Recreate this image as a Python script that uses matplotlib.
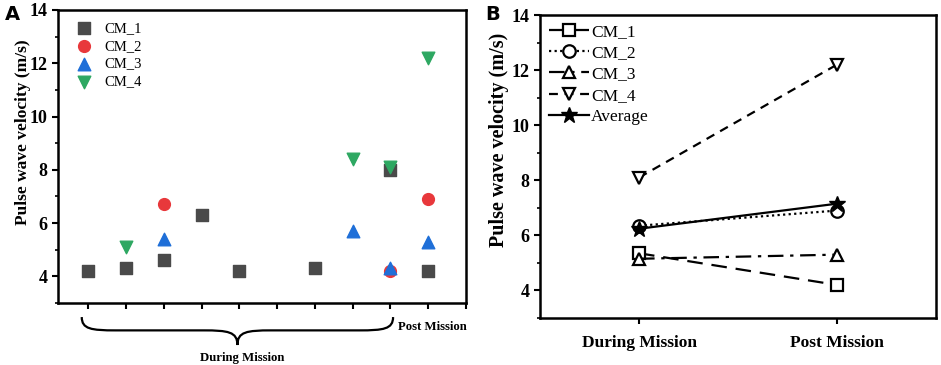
import matplotlib
matplotlib.use("Agg")
import matplotlib.pyplot as plt
from matplotlib.path import Path
from matplotlib.patches import PathPatch
from matplotlib.ticker import MultipleLocator

# ---- Panel A data ----
cm1_x = [1, 2, 3, 4, 5, 7, 9, 10]
cm1_y = [4.2, 4.3, 4.6, 6.3, 4.2, 4.3, 8.0, 4.2]
cm2_x = [3, 9, 10]
cm2_y = [6.7, 4.2, 6.9]
cm3_x = [3, 8, 9, 10]
cm3_y = [5.4, 5.7, 4.3, 5.3]
cm4_x = [2, 8, 9, 10]
cm4_y = [5.1, 8.4, 8.1, 12.2]

# ---- Panel B data ----
phases = ["During Mission", "Post Mission"]
b_cm1 = [5.35, 4.2]
b_cm2 = [6.35, 6.9]
b_cm3 = [5.15, 5.3]
b_cm4 = [8.1, 12.2]
b_avg = [6.24, 7.15]

serif = ["Liberation Serif", "DejaVu Serif"]
plt.rcParams["font.family"] = serif

fig = plt.figure(figsize=(9.41, 3.65), dpi=100)

# ---------- Panel A ----------
axA = fig.add_axes([0.0616, 0.170, 0.4336, 0.8027])
ms = 72
axA.scatter(cm1_x, cm1_y, marker="s", s=ms, color="#4a4a4a", label="CM_1", zorder=3)
axA.scatter(cm2_x, cm2_y, marker="o", s=ms, color="#e8383b", label="CM_2", zorder=3)
axA.scatter(cm3_x, cm3_y, marker="^", s=ms + 10, color="#1f6fd8", label="CM_3", zorder=4)
axA.scatter(cm4_x, cm4_y, marker="v", s=ms + 10, color="#2ea862", label="CM_4", zorder=4)
axA.set_xlim(0.2, 11)
axA.set_ylim(3, 14)
axA.set_xticks(range(1, 12))
axA.set_xticklabels([])
axA.set_yticks([4, 6, 8, 10, 12, 14])
axA.yaxis.set_minor_locator(MultipleLocator(1))
axA.tick_params(axis="both", which="major", direction="out", length=4, width=1.5)
axA.tick_params(axis="y", which="minor", direction="out", length=2.5, width=1.2)
for lab in axA.get_yticklabels():
    lab.set_fontweight("bold")
    lab.set_fontsize(13)
for sp in axA.spines.values():
    sp.set_linewidth(1.8)
axA.set_ylabel("Pulse wave velocity (m/s)", fontsize=12.5, fontweight="bold")
axA.yaxis.set_label_coords(-0.066, 0.584)
legA = axA.legend(loc="upper left", frameon=False, fontsize=10.5, handletextpad=0.4,
                  labelspacing=0.32, borderaxespad=0.4, scatterpoints=1)

# curly brace under During Mission
L, R = 0.83, 9.07
C = (L + R) / 2
ytop, ymid, ytip = 2.47, 1.97, 1.42
verts = [
    (L, ytop), (L, ymid + 0.05), (L + 0.25, ymid), (L + 0.9, ymid),
    (C - 0.9, ymid),
    (C - 0.25, ymid), (C, ymid - 0.05), (C, ytip),
    (C, ymid - 0.05), (C + 0.25, ymid), (C + 0.9, ymid),
    (R - 0.9, ymid),
    (R - 0.25, ymid), (R, ymid + 0.05), (R, ytop),
]
codes = [Path.MOVETO, Path.CURVE4, Path.CURVE4, Path.CURVE4,
         Path.LINETO,
         Path.CURVE4, Path.CURVE4, Path.CURVE4,
         Path.CURVE4, Path.CURVE4, Path.CURVE4,
         Path.LINETO,
         Path.CURVE4, Path.CURVE4, Path.CURVE4]
brace = PathPatch(Path(verts, codes), facecolor="none", edgecolor="black", lw=1.6,
                  clip_on=False)
axA.add_patch(brace)
axA.text(C + 0.13, 0.95, "During Mission", ha="center", va="center", fontsize=9.2,
         fontweight="bold", clip_on=False)
axA.text(10.1, 2.1, "Post Mission", ha="center", va="center", fontsize=9.2,
         fontweight="bold", clip_on=False)

# ---------- Panel B ----------
axB = fig.add_axes([0.5739, 0.1288, 0.4208, 0.8301])
xb = [0, 1]
common = dict(color="black", markerfacecolor="white", markeredgecolor="black",
              markeredgewidth=1.6, lw=1.6, markersize=9)
axB.plot(xb, b_cm1, marker="s", linestyle=(0, (7, 4)), label="CM_1", **common)
axB.plot(xb, b_cm2, marker="o", linestyle=(0, (1, 1.5)), label="CM_2", **common)
axB.plot(xb, b_cm3, marker="^", linestyle=(0, (7, 3, 1.5, 3)), label="CM_3", **common)
axB.plot(xb, b_cm4, marker="v", linestyle=(0, (4, 3)), label="CM_4", **common)
axB.plot(xb, b_avg, marker="*", linestyle="-", color="black", markerfacecolor="black",
         markeredgecolor="black", lw=1.6, markersize=12, label="Average")
axB.set_xlim(-0.5, 1.5)
axB.set_ylim(3, 14)
axB.set_xticks(xb)
axB.set_xticklabels(phases, fontsize=12.5, fontweight="bold")
axB.set_yticks([4, 6, 8, 10, 12, 14])
axB.yaxis.set_minor_locator(MultipleLocator(1))
axB.tick_params(axis="both", which="major", direction="out", length=4, width=1.5)
axB.tick_params(axis="x", which="major", pad=8)
axB.tick_params(axis="y", which="minor", direction="out", length=2.5, width=1.2)
for lab in axB.get_yticklabels():
    lab.set_fontweight("bold")
    lab.set_fontsize(13)
for sp in axB.spines.values():
    sp.set_linewidth(1.8)
axB.set_ylabel("Pulse wave velocity (m/s)", fontsize=14.5, fontweight="bold")
axB.yaxis.set_label_coords(-0.078, 0.587)
axB.legend(loc="upper left", frameon=False, fontsize=12.5, handlelength=2.3,
           handletextpad=0.15, labelspacing=0.3, borderaxespad=0.3, borderpad=0.2)

# panel letters
fig.text(0.005, 0.985, "A", fontsize=14, fontweight="bold", family="DejaVu Sans",
         va="top", ha="left")
fig.text(0.516, 0.985, "B", fontsize=14, fontweight="bold", family="DejaVu Sans",
         va="top", ha="left")

fig.savefig("out.png", dpi=100)
